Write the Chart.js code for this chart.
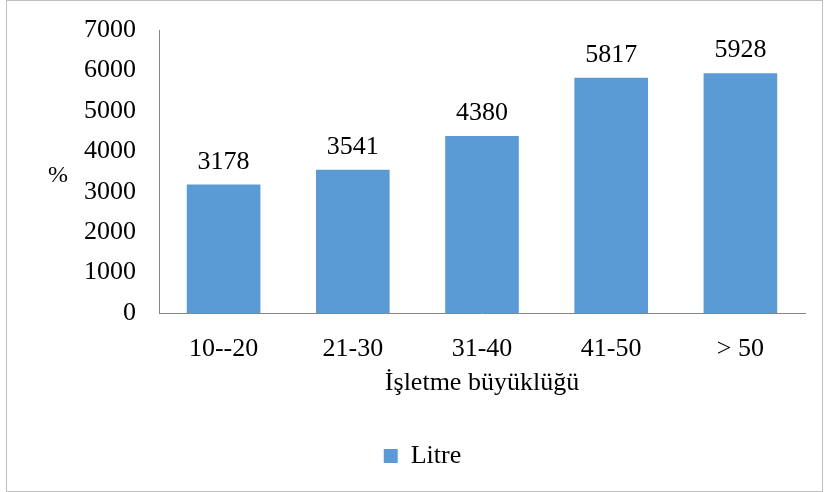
<!DOCTYPE html>
<html>
<head>
<meta charset="utf-8">
<script src="https://cdn.jsdelivr.net/npm/chart.js@4"></script>
<style>
  html, body { margin: 0; padding: 0; background: #ffffff; }
  #wrap { position: relative; width: 824px; height: 492px; }
  #frame {
    position: absolute; left: 6px; top: 0; width: 815px; height: 490px;
    border: 1px solid #bfbfbf; pointer-events: none;
  }
</style>
</head>
<body>
<div id="wrap">
  <canvas id="chart" width="824" height="492"></canvas>
  <div id="frame"></div>
</div>
<script>
// chart data
const categories = ['10--20', '21-30', '31-40', '41-50', '> 50'];
const litreValues = [3178, 3541, 4380, 5817, 5928];
const yTicks = [0, 1000, 2000, 3000, 4000, 5000, 6000, 7000];

const seriesLabel = 'Litre';
const xTitle = 'İşletme büyüklüğü';
const yTitle = '%';

const FONT = '"Liberation Serif", "Times New Roman", serif';
const barColor = '#5B9BD5';
const axisColor = '#868686';

// value labels above bars
const valueLabels = {
    id: 'valueLabels',
    afterDatasetsDraw(chart) {
        const ctx = chart.ctx;
        const meta = chart.getDatasetMeta(0);
        ctx.save();
        ctx.font = '26px ' + FONT;
        ctx.fillStyle = '#000000';
        ctx.textAlign = 'center';
        ctx.textBaseline = 'alphabetic';
        meta.data.forEach((bar, i) => {
            ctx.fillText(String(chart.data.datasets[0].data[i]), bar.x, bar.y - 16);
        });
        ctx.restore();
    }
};

// upright "%" title left of the y axis
const yAxisTitle = {
    id: 'yAxisTitle',
    afterDraw(chart) {
        const ctx = chart.ctx;
        const area = chart.chartArea;
        ctx.save();
        ctx.font = '24px ' + FONT;
        ctx.fillStyle = '#000000';
        ctx.textAlign = 'center';
        ctx.textBaseline = 'middle';
        ctx.fillText(yTitle, 58, (area.top + area.bottom) / 2 + 4);
        ctx.restore();
    }
};

// legend sits a bit right of the canvas centre in the original
const legendShift = {
    id: 'legendShift',
    afterLayout(chart) {
        if (chart.legend) {
            chart.legend.left += 20;
            chart.legend.right += 20;
        }
    }
};

new Chart(document.getElementById('chart'), {
    type: 'bar',
    data: {
        labels: categories,
        datasets: [{
            label: seriesLabel,
            data: litreValues,
            backgroundColor: barColor,
            borderWidth: 0,
            barPercentage: 0.57,
            categoryPercentage: 1.0
        }]
    },
    options: {
        responsive: false,
        animation: false,
        layout: {
            padding: { top: 30, right: 19, bottom: 13, left: 0 }
        },
        plugins: {
            legend: {
                display: true,
                position: 'bottom',
                labels: {
                    color: '#000000',
                    boxWidth: 14,
                    boxHeight: 14,
                    padding: 10,
                    font: { family: FONT, size: 26 }
                }
            },
            tooltip: { enabled: false }
        },
        scales: {
            x: {
                grid: { display: false, drawTicks: false },
                border: { display: true, color: axisColor, width: 1 },
                ticks: {
                    color: '#000000',
                    padding: 21,
                    font: { family: FONT, size: 26 }
                },
                title: {
                    display: true,
                    text: xTitle,
                    color: '#000000',
                    padding: { top: 0, bottom: 34 },
                    font: { family: FONT, size: 26 }
                },
                afterFit(scale) { scale.height = 120; }
            },
            y: {
                min: 0,
                max: 7000,
                grid: { display: false, drawTicks: false },
                border: { display: true, color: axisColor, width: 1 },
                afterBuildTicks(scale) {
                    scale.ticks = yTicks.map(v => ({ value: v }));
                },
                ticks: {
                    color: '#000000',
                    padding: 23,
                    font: { family: FONT, size: 26 },
                    callback: value => String(value)
                },
                afterFit(scale) {
                    scale.width = 159;
                    // tick padding should not push the plot top down
                    scale.paddingTop = 16;
                    scale.paddingBottom = 16;
                }
            }
        }
    },
    plugins: [valueLabels, yAxisTitle, legendShift]
});
</script>
</body>
</html>
